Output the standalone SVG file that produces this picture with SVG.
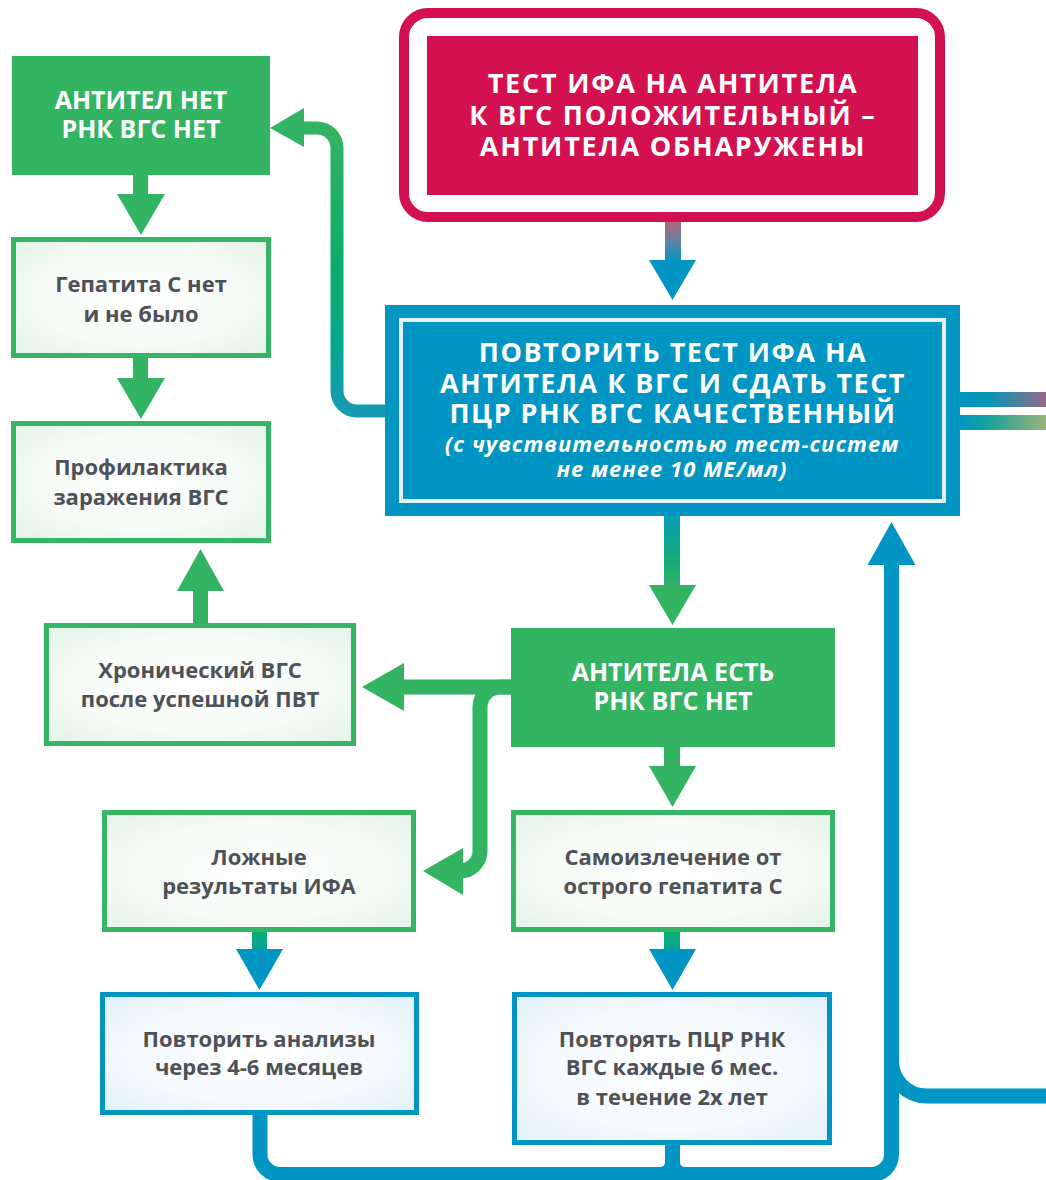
<svg xmlns="http://www.w3.org/2000/svg" width="1046" height="1180" viewBox="0 0 1046 1180">
<style>
text{font-family:"Open Sans","Noto Sans","Liberation Sans",sans-serif;font-weight:700;text-anchor:middle}
.cap{fill:#ffffff;font-size:25px}
.big{fill:#ffffff;font-size:27px}
.it{fill:#ffffff;font-size:22px;font-style:italic;letter-spacing:1px}
.gr{fill:#4e5156;font-size:22px}
.gbox{fill:url(#gfill);stroke:#36b565;stroke-width:5}
.bbox{fill:url(#bfill);stroke:#0095c3;stroke-width:5}
.solid{fill:#33b463}
.gline{fill:none;stroke:#33b463;stroke-width:15}
.bline{fill:none;stroke:#0095c3;stroke-width:15}
</style>
<defs>
<radialGradient id="gfill" cx="0.5" cy="0.5" r="0.7">
<stop offset="0" stop-color="#ffffff"/><stop offset="0.6" stop-color="#f4faf5"/><stop offset="1" stop-color="#e4f3e8"/>
</radialGradient>
<radialGradient id="bfill" cx="0.5" cy="0.5" r="0.7">
<stop offset="0" stop-color="#ffffff"/><stop offset="0.6" stop-color="#f3f9fc"/><stop offset="1" stop-color="#e2f1f8"/>
</radialGradient>
<linearGradient id="redblue" gradientUnits="userSpaceOnUse" x1="0" y1="222" x2="0" y2="262">
<stop offset="0" stop-color="#b3667e"/><stop offset="0.5" stop-color="#5a85a4"/><stop offset="1" stop-color="#0095c2"/>
</linearGradient>
<linearGradient id="bluegreen" gradientUnits="userSpaceOnUse" x1="0" y1="516" x2="0" y2="590">
<stop offset="0" stop-color="#0a9fb0"/><stop offset="0.5" stop-color="#12a882"/><stop offset="1" stop-color="#33b463"/>
</linearGradient>
<linearGradient id="leftline" gradientUnits="userSpaceOnUse" x1="0" y1="128" x2="0" y2="418">
<stop offset="0" stop-color="#34b462"/><stop offset="0.5" stop-color="#0aab6c"/><stop offset="0.78" stop-color="#05a592"/><stop offset="1" stop-color="#1899b8"/>
</linearGradient>
<linearGradient id="gb1" gradientUnits="userSpaceOnUse" x1="0" y1="932" x2="0" y2="975">
<stop offset="0" stop-color="#08ad78"/><stop offset="1" stop-color="#0095c2"/>
</linearGradient>
<linearGradient id="rtop" gradientUnits="userSpaceOnUse" x1="960" y1="0" x2="1046" y2="0">
<stop offset="0" stop-color="#0096c3"/><stop offset="0.35" stop-color="#0a93b5"/><stop offset="1" stop-color="#926b89"/>
</linearGradient>
<linearGradient id="rbot" gradientUnits="userSpaceOnUse" x1="960" y1="0" x2="1046" y2="0">
<stop offset="0" stop-color="#0096c3"/><stop offset="0.3" stop-color="#12a29c"/><stop offset="1" stop-color="#9db27a"/>
</linearGradient>
</defs>

<g id="connectors">
<rect x="665" y="220" width="16" height="42" fill="url(#redblue)"/>
<polygon points="649,260 696,260 672.5,300" fill="#0095c2"/>
<rect x="664" y="516" width="16" height="71" fill="url(#bluegreen)"/>
<polygon points="649,585 696,585 672.5,625" class="solid"/>
<path d="M 386 411 H 357 A 20 20 0 0 1 337 391 V 148 A 20 20 0 0 0 317 128 H 300" fill="none" stroke="url(#leftline)" stroke-width="13"/>
<polygon points="270,128 304,108 304,147" class="solid"/>
<rect x="133" y="174" width="15" height="22" class="solid"/>
<polygon points="117,194 165,194 141,235" class="solid"/>
<rect x="133" y="357" width="15" height="23" class="solid"/>
<polygon points="117,378 165,378 141,419" class="solid"/>
<rect x="193" y="588" width="15" height="37" class="solid"/>
<polygon points="177,591 224,591 200.5,549" class="solid"/>
<rect x="402" y="679.5" width="110" height="15" class="solid"/>
<polygon points="362,687 404,663 404,711" class="solid"/>
<path class="gline" d="M 511 687 H 500 A 20 20 0 0 0 480 707 V 851 A 20 20 0 0 1 460 871 H 458"/>
<polygon points="423,871 463,848 463,895" class="solid"/>
<rect x="664" y="746" width="16" height="22" class="solid"/>
<polygon points="649,766 696,766 672.5,807" class="solid"/>
<rect x="252" y="931" width="15" height="20" fill="url(#gb1)"/>
<polygon points="236,949 283,949 259.5,990" fill="#0095c2"/>
<rect x="664" y="931" width="16" height="20" fill="url(#gb1)"/>
<polygon points="649,949 696,949 672.5,990" fill="#0095c2"/>
<path class="bline" d="M 260 1114 V 1154.5 A 20 20 0 0 0 280 1174.5 H 871.5 A 20 20 0 0 0 891.5 1154.5 V 562"/>
<path class="bline" d="M 672.5 1143 V 1162 A 12 12 0 0 0 684.5 1174.5"/>
<path class="bline" d="M 672.5 1162 A 12 12 0 0 1 660.5 1174.5"/>
<path class="bline" d="M 891.5 1061 A 35 35 0 0 0 926.5 1096 H 1046"/>
<polygon points="891.5,522 867.5,565 915.5,565" fill="#0095c3"/>
<rect x="958" y="392" width="88" height="15" fill="url(#rtop)"/>
<rect x="958" y="415" width="88" height="15" fill="url(#rbot)"/>
</g>

<g id="node-test-ifa">
<rect x="404" y="13" width="536" height="204" rx="24" fill="#ffffff" stroke="#d31150" stroke-width="10"/>
<rect x="427" y="36" width="491" height="159" fill="#d31150"/>
<text class="big" x="673" y="93" letter-spacing="1.8">ТЕСТ ИФА НА АНТИТЕЛА</text>
<text class="big" x="673" y="125" letter-spacing="1.8">К ВГС ПОЛОЖИТЕЛЬНЫЙ –</text>
<text class="big" x="673" y="156" letter-spacing="1.8">АНТИТЕЛА ОБНАРУЖЕНЫ</text>
</g>

<g id="node-povtorit-test">
<rect x="385" y="305" width="575" height="211" fill="#0095c3"/>
<rect x="401" y="320" width="543" height="181" fill="none" stroke="#e3f3f9" stroke-width="4"/>
<text class="big" x="673" y="362" letter-spacing="1.5">ПОВТОРИТЬ ТЕСТ ИФА НА</text>
<text class="big" x="673" y="393" letter-spacing="1.5">АНТИТЕЛА К ВГС И СДАТЬ ТЕСТ</text>
<text class="big" x="673" y="423" letter-spacing="1.5">ПЦР РНК ВГС КАЧЕСТВЕННЫЙ</text>
<text class="it" x="672" y="452">(с чувствительностью тест-систем</text>
<text class="it" x="672" y="477">не менее 10 МЕ/мл)</text>
</g>

<g id="node-antitel-net">
<rect x="12" y="56" width="258" height="119" fill="#33b463"/>
<text class="cap" x="141" y="109">АНТИТЕЛ НЕТ</text>
<text class="cap" x="141" y="138">РНК ВГС НЕТ</text>
</g>

<g id="node-gepatita-net">
<rect class="gbox" x="13.5" y="239.5" width="255" height="116"/>
<text class="gr" x="141" y="292">Гепатита С нет</text>
<text class="gr" x="141" y="322">и не было</text>
</g>

<g id="node-profilaktika">
<rect class="gbox" x="13.5" y="423.5" width="255" height="117"/>
<text class="gr" x="141" y="475">Профилактика</text>
<text class="gr" x="141" y="505">заражения ВГС</text>
</g>

<g id="node-hronicheskiy">
<rect class="gbox" x="46.5" y="625.5" width="307" height="118"/>
<text class="gr" x="200" y="678">Хронический ВГС</text>
<text class="gr" x="200" y="707">после успешной ПВТ</text>
</g>

<g id="node-antitela-est">
<rect x="511" y="628" width="324" height="119" fill="#33b463"/>
<text class="cap" x="673" y="681">АНТИТЕЛА ЕСТЬ</text>
<text class="cap" x="673" y="710">РНК ВГС НЕТ</text>
</g>

<g id="node-lozhnye">
<rect class="gbox" x="104.5" y="812.5" width="309" height="117"/>
<text class="gr" x="259" y="865">Ложные</text>
<text class="gr" x="259" y="894">результаты ИФА</text>
</g>

<g id="node-samoizlechenie">
<rect class="gbox" x="513.5" y="812.5" width="319" height="117"/>
<text class="gr" x="673" y="865">Самоизлечение от</text>
<text class="gr" x="673" y="894">острого гепатита С</text>
</g>

<g id="node-povtorit-analizy">
<rect class="bbox" x="102.5" y="994.5" width="314" height="118"/>
<text class="gr" x="259" y="1047">Повторить анализы</text>
<text class="gr" x="259" y="1075">через 4-6 месяцев</text>
</g>

<g id="node-povtoryat-pcr">
<rect class="bbox" x="514.5" y="994.5" width="315" height="148"/>
<text class="gr" x="672" y="1047">Повторять ПЦР РНК</text>
<text class="gr" x="672" y="1075">ВГС каждые 6 мес.</text>
<text class="gr" x="672" y="1105">в течение 2х лет</text>
</g>
</svg>
